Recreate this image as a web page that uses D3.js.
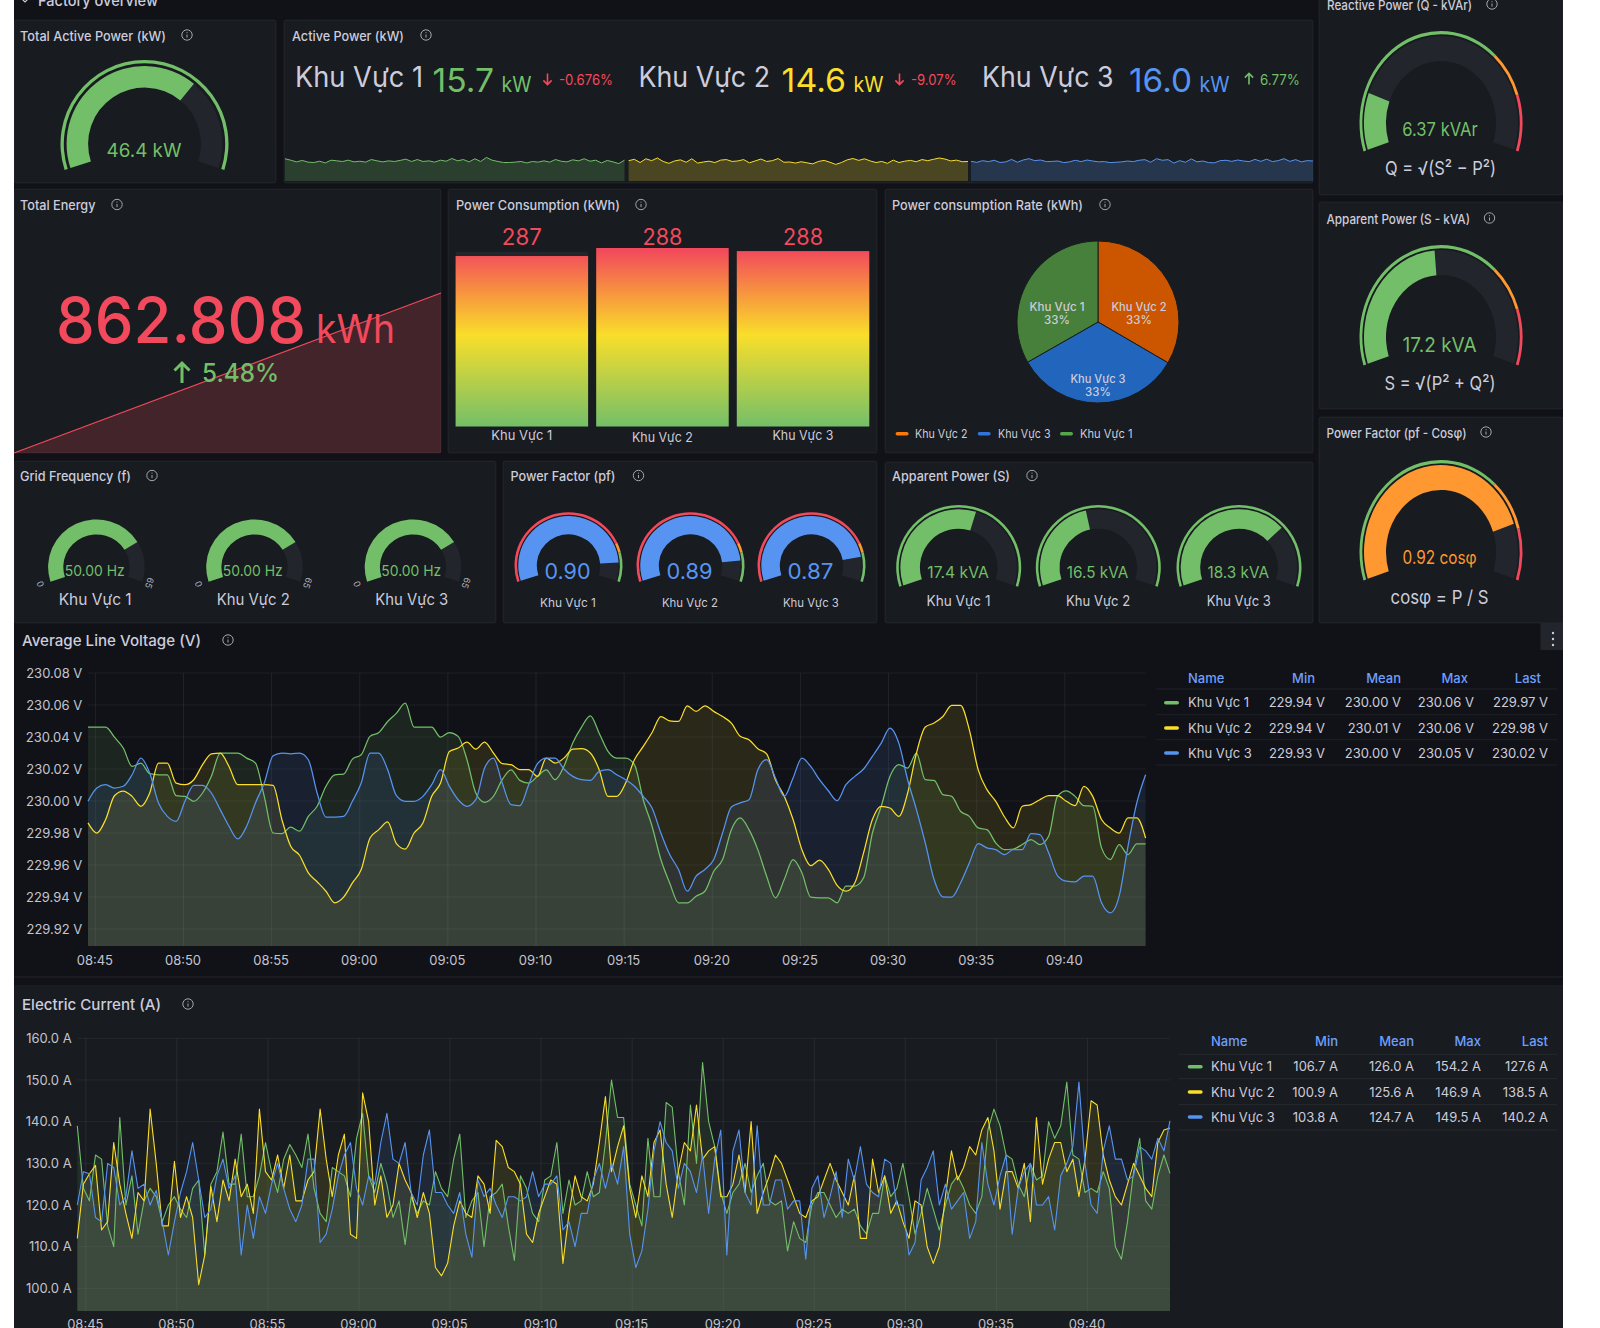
<!DOCTYPE html>
<html>
<head>
<meta charset="utf-8">
<title>Factory overview</title>
<script src="https://cdn.jsdelivr.net/npm/d3@7"></script>
<style>
  html, body { margin: 0; padding: 0; background: #fff; }
  svg { display: block; font-family: Inter, "Noto Sans", sans-serif; }
  .axis text { font-family: Inter, "Noto Sans", sans-serif; font-size: 13px; fill: #c4c4d0; }
  .axis .domain, .axis line { display: none; }
</style>
</head>
<body>
<svg id="board" width="1600" height="1328"></svg>
<script>
// ---- Series names and colours ----
const zones = ["Khu Vực 1", "Khu Vực 2", "Khu Vực 3"];
const zoneColors = ["#73bf69", "#fade2a", "#5794f2"];

// ---- Active power (kW) ----
const activePowerNow = [15.7, 14.6, 16.0];
const activePowerChange = ["-0.676%", "-9.07%", "6.77%"];
const sparkZone1 = [17.1,16.0,14.7,15.8,14.5,14.2,15.2,13.9,16.0,15.5,15.0,16.0,14.7,15.2,14.5,16.5,15.5,14.7,15.5,15.0,15.8,16.8,15.0,16.5,15.0,15.5,14.5,16.0,15.2,17.3,15.5,16.5,14.7,17.1,15.0,18.1,16.0,15.0,14.2,14.2,14.5,15.0,13.9,15.0,14.5,15.5,14.5,16.5,15.2,14.7,16.3,15.5,17.1,15.2,16.0,13.9,15.8,14.7,13.4,16.0];
const sparkZone2 = [15.2,16.2,13.8,16.6,15.2,17.2,14.6,13.2,15.0,15.8,14.0,16.6,13.4,14.2,14.8,13.8,15.6,16.0,14.6,15.0,16.0,13.6,15.0,16.4,14.6,15.2,16.8,14.0,14.2,13.4,14.4,13.6,12.8,14.6,15.4,14.0,12.4,13.8,15.8,16.8,15.4,16.6,15.0,13.8,14.6,13.2,15.6,13.8,14.8,15.4,14.4,16.0,15.2,16.2,17.2,16.4,15.0,15.6,14.4,14.6];
const sparkZone3 = [16.0,15.2,16.6,15.8,16.9,15.1,15.6,17.6,15.3,17.1,18.2,16.6,17.1,15.8,16.0,16.3,15.0,15.6,16.9,15.8,17.1,16.3,15.6,15.8,15.0,15.3,15.6,16.3,15.8,16.9,17.4,15.3,18.2,16.9,17.4,14.6,16.6,15.3,18.0,15.6,16.3,15.0,14.8,16.6,16.9,16.0,17.1,16.3,15.8,17.6,16.0,17.8,15.8,16.6,18.2,16.0,17.4,15.6,16.6,16.3];

// ---- Energy (kWh) ----
const totalEnergy = 862.808;
const totalEnergyTrend = [0, 862.808];
const consumption = [286.9, 288.2, 287.7];

// ---- Gauge readings ----
const totalActive = 46.4;
const reactive = 6.37;
const apparentTotal = 17.2;
const cosPhi = 0.92;
const gridFrequency = [50, 50, 50];
const zonePowerFactor = [0.90, 0.89, 0.87];
const zoneApparent = [17.4, 16.5, 18.3];

// ---- Line voltage, 30 s samples, millivolts away from the 230 V nominal ----
const voltageMvZone1 = [46.2,46.2,46.2,39.9,33.1,21.6,23.7,17.1,16.4,16.4,3.3,2.9,-0.2,5.0,15.4,30.0,30.0,30.0,26.8,23.7,2.9,-20.0,-20.4,-16.4,-18.9,-9.6,-3.3,9.2,16.4,16.8,26.2,28.9,40.4,42.8,49.7,54.9,61.2,46.2,46.2,46.2,39.9,42.8,40.4,25.8,5.0,-0.8,2.9,13.3,19.5,12.9,11.2,15.4,19.5,13.3,21.6,36.2,46.2,53.2,42.4,
  31.0,26.8,26.8,22.7,0.8,-15.8,-36.6,-51.2,-63.6,-63.6,-59.5,-56.4,-43.9,-36.6,-17.9,-10.6,-17.9,-30.4,-47.0,-60.5,-49.1,-36.6,-44.9,-60.1,-60.5,-60.5,-63.6,-53.2,-53.2,-48.0,-20.0,-3.3,15.4,22.7,20.6,30.0,13.3,12.9,4.0,2.9,-6.4,-9.6,-16.8,-17.9,-26.2,-30.4,-30.0,-27.2,-24.1,-27.2,-22.0,2.9,6.4,2.9,-2.9,-3.3,-29.3,-36.6,-27.2,-33.5,-26.8,-26.8];
const voltageMvZone2 = [-13.7,-20.0,-11.6,3.3,6.2,2.9,-3.3,5.0,23.7,23.7,11.2,10.2,13.3,22.7,29.5,30.0,21.6,10.2,10.2,10.2,10.2,9.8,-11.6,-28.3,-33.9,-44.9,-50.5,-56.4,-63.6,-60.1,-51.2,-42.8,-23.1,-17.9,-13.1,-26.6,-30.0,-20.0,-13.7,2.9,11.2,31.0,33.1,36.8,32.4,36.8,30.0,23.3,22.7,19.6,19.6,15.4,26.8,23.7,26.8,32.4,32.7,30.0,19.6,
  2.9,2.9,11.2,25.8,34.1,42.8,52.8,50.1,49.7,59.5,56.0,59.5,56.0,52.8,48.7,40.4,38.3,32.7,29.5,13.3,2.9,-11.6,-30.4,-40.4,-37.0,-42.8,-52.8,-56.4,-51.2,-32.4,-11.6,-3.3,-4.4,-9.6,5.0,30.0,46.2,48.7,52.8,59.7,59.7,44.5,19.6,7.1,-0.2,-10.0,-16.8,-3.3,-2.3,0.8,3.3,3.3,-0.2,-2.9,9.2,2.9,-11.6,-16.8,-20.0,-10.6,-10.6,-23.1];
const voltageMvZone3 = [-0.2,8.1,10.2,8.1,9.2,16.4,26.8,17.5,-1.2,-9.6,-12.7,-0.2,9.8,9.8,5.0,-5.4,-15.8,-23.7,-15.8,-1.2,11.2,28.3,30.0,29.5,30.0,25.8,5.0,-10.0,-10.0,-9.6,-0.2,11.2,30.0,30.0,19.6,3.3,-0.2,-0.2,2.9,10.2,19.6,9.2,0.8,-3.3,0.8,20.6,26.8,11.2,-2.3,-2.9,10.2,23.3,26.8,26.8,20.0,15.4,13.3,12.9,18.5,
  19.6,16.4,13.3,9.2,2.9,-4.4,-20.0,-33.5,-42.8,-56.4,-47.0,-42.8,-36.6,-20.0,-3.7,-1.2,0.8,19.6,25.8,14.4,2.9,14.4,26.8,21.6,13.3,6.4,0.2,10.2,15.4,20.0,27.9,36.2,45.6,36.2,13.3,-5.4,-26.2,-49.1,-59.9,-60.1,-51.2,-38.7,-26.6,-29.3,-30.4,-33.5,-30.4,-30.4,-20.4,-21.0,-32.4,-46.6,-50.1,-50.5,-47.0,-47.0,-63.6,-69.9,-59.5,-28.3,-1.2,16.4];
const voltageTicks = [229.92, 229.94, 229.96, 229.98, 230.00, 230.02, 230.04, 230.06, 230.08];
const voltageMin = [229.94, 229.94, 229.93];
const voltageMean = [230.00, 230.01, 230.00];
const voltageMax = [230.06, 230.06, 230.05];
const voltageLast = [229.97, 229.98, 230.02];

// ---- Electric current, 20 s samples, amperes ----
const currentZone1 = [139,124,121,132,131,115,110,141,120,127,113,121,124,122,116,120,122,119,117,124,126,108,125,128,137.5,125,125,137,122,122,127,135,128,123,131,134.5,132,129,137,124,118,116,129,128,127,122,136,142,127,123,130,125,117,121,110.5,122,118,121,120,128,124,122,131,137,117,121,123,110,122,123,125,115,106.7,127,124,118,116,126,127,135,118,126,120,121,128,
  122,123,135,150,141,141,125,120,115,136,122,122,144.6,143.5,128,120,144,130,154.2,140,134,123,118,123,125,130,123,127,130,121,120,121,109,116,112,111,120,123,123,120,117,119,118,119,115,113,118,118,127,122,124,130,122,113,118,124,119,114,120,125,127,124,120,118,122,138,143,139,132,131,125,122,130,126,127,140,136,139,149.5,132,131,123,124,123,128,124,110,107,116,128,136,121,119,127,132,127.6];
const currentZone2 = [112,125,127.5,129.5,114,116,135,125,118,112,123,121,143,130,115,115,130.5,117,122,117,100.9,108,124.5,116,126,121,131,122,125,118,143,128,126,132,124,132,121,121,126,128,143,131,122,132,137,113,112,146.9,140,120,127,117,120,130,126,123,117,123,118,105,103,106,115,121,118,117,127,125,118,135.5,134,129,128,125,113,111,118,122,126,125,106,118,127,122,121,
  125,135,146,128,134,139,124,117,127,122,135,138,125,117,128,135,133,144,131,133,134,122,122,125,132,123,140,118,123,127,132,130,126,122,118,117,121,122,126,130,126,123,120,127,112,112,131,123,127,118,121,116,112,121,120,110,106,110,122,133,126,129,134,132,138,141,133,119,128,128,124,130,116,141,125,131,135,135,128,131,122,131,145,144,132,126,122,120,125,130,127,124,122,135,138,138.5];
const currentZone3 = [120,128,127.5,117,116,130,129,120,122,133,124,125,120,123.5,116,108,116,123,128,135,126,117,119,127,131,124,127,108,120,112,122,118,125,130,124,119,116,120,131,131,111,113,119,127,132,135,124,120,127,125,135,142,131,130,135,123,120,132,138,123,123,120,118,123,113,107.5,126,122,124,120,117,122,122,121,122,128,122,125,125,127,114,116,110,118,118,
  126,130,124,130,125,134,113,105,109,119,133,140,135,133,124,130,128,123,132,118,131,138,108,133,138,123,120,139,120,120,126,126,119,121,121,107,124,127,117,122,128,117,131,126,134,125,123,122,131,130,120,120,108,111,126,129,133,120,125,119,121,123,112,116,135,125,120,127,132,113,124,128,130,120,120,122,114,127,130,134,149.5,130,120,118,133,139,131,131,126,127,134,133,131,136,133,140.2];
const currentTicks = [100, 110, 120, 130, 140, 150, 160];
const currentMin = [106.7, 100.9, 103.8];
const currentMean = [126.0, 125.6, 124.7];
const currentMax = [154.2, 146.9, 149.5];
const currentLast = [127.6, 138.5, 140.2];

// ---- Pie legend order and colours ----
const pieOrder = [1, 2, 0];
const pieColors = ["#ff780a", "#3274d9", "#56a64b"];

const RED = "#f2495c", ORANGE = "#ff9830", GREEN = "#73bf69", BLUE = "#5794f2", TEXT = "#ccccdc", TRACK = "#22252b";

const svg = d3.select("#board");
const defs = svg.append("defs");
const deg = d => d * Math.PI / 180;

// Text helper: y is the visual middle of the capitals, w forces the rendered width.
function label(x, y, str, o = {}) {
  const size = o.size || 13;
  const n = (o.parent || svg).append("text")
    .attr("x", x).attr("y", y + 0.36 * size)
    .attr("font-size", size)
    .attr("fill", o.fill || TEXT)
    .attr("font-weight", o.weight || 400)
    .attr("text-anchor", o.anchor || "start")
    .text(str);
  if (o.w) n.attr("textLength", o.w).attr("lengthAdjust", "spacingAndGlyphs");
  return n;
}

function infoIcon(cx, cy) {
  const g = svg.append("g").attr("fill", "none").attr("stroke", "#a4a7b3").attr("stroke-width", 1);
  g.append("circle").attr("cx", cx).attr("cy", cy).attr("r", 5.2);
  g.append("line").attr("x1", cx).attr("x2", cx).attr("y1", cy - 0.5).attr("y2", cy + 2.6);
  g.append("line").attr("x1", cx).attr("x2", cx).attr("y1", cy - 2.8).attr("y2", cy - 1.8);
}

function panel(x, y, w, h, title, tx, ty, tw, icon) {
  svg.append("rect").attr("x", x).attr("y", y).attr("width", w).attr("height", h).attr("rx", 2)
    .attr("fill", "#181b1f").attr("stroke", "rgba(204,204,220,0.07)");
  label(tx, ty, title, { size: 13, weight: 500, w: tw });
  infoIcon(icon, ty - 1);
}

function arrow(cx, cy, up, color, size, width) {
  const d = up ? -1 : 1, s = size;
  svg.append("path")
    .attr("d", `M${cx},${cy - d * s}L${cx},${cy + d * s}M${cx - s * 0.75},${cy + d * s * 0.25}L${cx},${cy + d * s}L${cx + s * 0.75},${cy + d * s * 0.25}`)
    .attr("fill", "none").attr("stroke", color).attr("stroke-width", width);
}

// Radial gauge spanning -108..108 degrees, with optional threshold ring.
function gauge(o) {
  const a = d3.scaleLinear().domain(o.domain).range([deg(-108), deg(108)]).clamp(true);
  const g = svg.append("g").attr("transform", `translate(${o.cx},${o.cy}) scale(1,${o.ry / o.rx})`);
  const bandOuter = o.rx - (o.ringW || 0) - (o.gap || 0);
  const band = d3.arc().innerRadius(bandOuter - o.bandW).outerRadius(bandOuter);
  g.append("path").attr("d", band({ startAngle: deg(-108), endAngle: deg(108) })).attr("fill", TRACK);
  g.append("path").attr("d", band({ startAngle: deg(-108), endAngle: a(o.value) })).attr("fill", o.color);
  if (o.ringW) {
    const ring = d3.arc().innerRadius(o.rx - o.ringW).outerRadius(o.rx);
    const stops = [o.domain[0], ...o.steps.map(s => s[0]), o.domain[1]];
    o.steps.concat([[0, o.lastColor]]).forEach((s, i) => {
      g.append("path").attr("d", ring({ startAngle: a(stops[i]), endAngle: a(stops[i + 1]) })).attr("fill", i < o.steps.length ? s[1] : o.lastColor);
    });
  }
}

// ---- Page frame ----
svg.append("rect").attr("x", 14).attr("y", 0).attr("width", 1549).attr("height", 1328).attr("fill", "#111217");
svg.append("path").attr("d", "M21,-2L25,2L29,-2").attr("fill", "none").attr("stroke", TEXT).attr("stroke-width", 1.2);
label(38, 1, "Factory overview", { size: 15, weight: 500, w: 120 });

// ---- Total active power ----
panel(14, 20, 262, 163, "Total Active Power (kW)", 20, 36, 146, 187);
gauge({ cx: 144.5, cy: 144, rx: 84, ry: 84, ringW: 3.3, gap: 2.8, bandW: 21.5, value: totalActive, domain: [0, 68], color: GREEN, steps: [], lastColor: GREEN });
label(144, 150, `${totalActive} kW`, { size: 19, fill: GREEN, anchor: "middle", w: 75 });

// ---- Active power per zone ----
panel(284, 20, 1029, 163, "Active Power (kW)", 292, 36, 112, 426);
const statX = [
  { name: 295, nameW: 128, val: 432.6, valW: 61.5, unit: 501.5, arrow: 547.5, pct: 559, pctW: 54, up: false },
  { name: 638.5, nameW: 131.5, val: 781.6, valW: 64.5, unit: 853.6, arrow: 899.5, pct: 911, pctW: 45.6, up: false },
  { name: 982, nameW: 131.5, val: 1129, valW: 63, unit: 1199.5, arrow: 1249, pct: 1260, pctW: 40, up: true }
];
statX.forEach((s, i) => {
  label(s.name, 77, zones[i], { size: 28, w: s.nameW });
  label(s.val, 80, activePowerNow[i].toFixed(1), { size: 33, fill: zoneColors[i], w: s.valW });
  label(s.unit, 84, "kW", { size: 22, fill: zoneColors[i], w: 30 });
  arrow(s.arrow, 79, s.up, s.up ? GREEN : RED, 5.5, 1.6);
  label(s.pct, 79.5, activePowerChange[i], { size: 14, fill: s.up ? GREEN : RED, w: s.pctW });
});
[[285, 624.5, sparkZone1], [628.6, 968, sparkZone2], [971, 1313, sparkZone3]].forEach(([x0, x1, vals], i) => {
  const x = d3.scaleLinear().domain([0, vals.length - 1]).range([x0, x1]);
  const y = d3.scaleLinear().domain([0, d3.mean(vals) * 1.25]).range([181, 156]);
  svg.append("path").datum(vals).attr("fill", zoneColors[i]).attr("fill-opacity", 0.22)
    .attr("d", d3.area().x((d, j) => x(j)).y0(181).y1(d => y(d)));
  svg.append("path").datum(vals).attr("fill", "none").attr("stroke", zoneColors[i]).attr("stroke-width", 1)
    .attr("d", d3.line().x((d, j) => x(j)).y(d => y(d)));
});

// ---- Right column gauges ----
const powerSteps = [[25, GREEN], [30, ORANGE]];
panel(1319, -20, 244, 215, "Reactive Power (Q - kVAr)", 1327, 5, 145, 1492);
gauge({ cx: 1441, cy: 123, rx: 81.5, ry: 92, ringW: 2.8, gap: 1.7, bandW: 22, value: reactive, domain: [0, 36], color: GREEN, steps: powerSteps, lastColor: RED });
label(1440, 129, `${reactive} kVAr`, { size: 19, fill: GREEN, anchor: "middle", w: 75.5 });
label(1440.5, 168, "Q = √(S² − P²)", { size: 19, anchor: "middle", w: 111 });

panel(1319, 202, 244, 207, "Apparent Power (S - kVA)", 1326.5, 219, 143.5, 1489.5);
gauge({ cx: 1441, cy: 337, rx: 81.5, ry: 92, ringW: 2.8, gap: 1.7, bandW: 22, value: apparentTotal, domain: [0, 36], color: GREEN, steps: powerSteps, lastColor: RED });
label(1439.6, 345, `${apparentTotal} kVA`, { size: 20, fill: GREEN, anchor: "middle", w: 74 });
label(1440, 383, "S = √(P² + Q²)", { size: 19, anchor: "middle", w: 111 });

panel(1319, 417, 244, 206, "Power Factor (pf - Cosφ)", 1326.5, 433, 140, 1486);
gauge({ cx: 1441, cy: 552, rx: 81.5, ry: 92, ringW: 2.8, gap: 1.7, bandW: 22, value: cosPhi, domain: [0, 1.11], color: ORANGE, steps: [[0.77, GREEN], [0.94, ORANGE]], lastColor: RED });
label(1439.6, 558, `${cosPhi} cosφ`, { size: 18, fill: ORANGE, anchor: "middle", w: 74 });
label(1439.6, 597, "cosφ = P / S", { size: 19, anchor: "middle", w: 98 });

// ---- Total energy ----
panel(14, 189, 427, 264, "Total Energy", 20, 205.5, 75.5, 117);
{
  const x = d3.scaleLinear().domain([0, totalEnergyTrend.length - 1]).range([14, 441]);
  const y = d3.scaleLinear().domain([0, totalEnergy]).range([453, 293]);
  svg.append("path").datum(totalEnergyTrend).attr("fill", RED).attr("fill-opacity", 0.2)
    .attr("d", d3.area().x((d, i) => x(i)).y0(453).y1(d => y(d)));
  svg.append("path").datum(totalEnergyTrend).attr("fill", "none").attr("stroke", RED).attr("stroke-width", 1.2)
    .attr("d", d3.line().x((d, i) => x(i)).y(d => y(d)));
}
label(56, 320.5, totalEnergy.toFixed(3), { size: 63, fill: RED, w: 250, weight: 500 });
label(316, 329, "kWh", { size: 40, fill: RED, w: 79 });
arrow(182, 373, true, GREEN, 10, 3);
label(202, 373, "5.48%", { size: 25, fill: GREEN, w: 77, weight: 500 });

// ---- Power consumption bars ----
panel(448, 189, 429, 264, "Power Consumption (kWh)", 456, 205.5, 164, 641);
{
  const grad = defs.append("linearGradient").attr("id", "barFill").attr("gradientUnits", "userSpaceOnUse")
    .attr("x1", 0).attr("x2", 0).attr("y1", 250).attr("y2", 427);
  [[0, RED], [0.24, "#f7943f"], [0.48, "#f9de2a"], [1, GREEN]].forEach(s => grad.append("stop").attr("offset", s[0]).attr("stop-color", s[1]));
  const x = d3.scaleBand().domain(zones).range([455.6, 869.3]).paddingInner(0.0575);
  const y = d3.scaleLinear().domain([259.3, 288.2]).range([426.5, 248]);
  svg.append("g").selectAll("rect").data(zones).join("rect")
    .attr("x", d => x(d)).attr("width", x.bandwidth()).attr("y", 251.7).attr("height", 426.5 - 251.7).attr("fill", TRACK);
  svg.append("g").selectAll("rect").data(consumption).join("rect")
    .attr("x", (d, i) => x(zones[i])).attr("width", x.bandwidth())
    .attr("y", d => y(d)).attr("height", d => 426.5 - y(d)).attr("fill", "url(#barFill)");
  consumption.forEach((v, i) => {
    const cx = x(zones[i]) + x.bandwidth() / 2;
    label(cx, 236.7, d3.format(".0f")(v), { size: 23, fill: RED, anchor: "middle", w: 40 });
    label(cx, i === 1 ? 437.5 : 435.5, zones[i], { size: 13.5, anchor: "middle", w: 61 });
  });
}

// ---- Consumption share pie ----
panel(885, 189, 428, 264, "Power consumption Rate (kWh)", 892, 205.5, 191, 1105);
{
  const cx = 1098, cy = 322, r = 81;
  const stops = [["#b55a12", "#cc5500"], ["#1e4b9c", "#2166bc"], ["#38662f", "#47803a"]];
  const pieData = pieOrder.map(i => consumption[i]);
  const arcs = d3.pie().sort(null)(pieData);
  const arcGen = d3.arc().innerRadius(0).outerRadius(r);
  const g = svg.append("g").attr("transform", `translate(${cx},${cy})`);
  arcs.forEach((a, i) => {
    const id = "slice" + i;
    const rg = defs.append("radialGradient").attr("id", id).attr("gradientUnits", "userSpaceOnUse")
      .attr("cx", cx).attr("cy", cy).attr("r", r);
    rg.append("stop").attr("offset", 0).attr("stop-color", stops[i][0]);
    rg.append("stop").attr("offset", 1).attr("stop-color", stops[i][1]);
    g.append("path").attr("d", arcGen(a)).attr("fill", `url(#${id})`).attr("stroke", "#181b1f").attr("stroke-width", 1);
  });
  const pos = [[1139, 307, 320], [1098, 379, 392], [1057, 307, 320]];
  arcs.forEach((a, i) => {
    const pct = d3.format(".0%")((a.endAngle - a.startAngle) / (2 * Math.PI));
    label(pos[i][0], pos[i][1], zones[pieOrder[i]], { size: 11.5, anchor: "middle", w: 55, weight: 500 });
    label(pos[i][0], pos[i][2], pct, { size: 11.5, anchor: "middle", weight: 500 });
  });
  [[895.6, 915], [977.7, 998], [1060, 1080]].forEach(([sx, tx], i) => {
    svg.append("rect").attr("x", sx).attr("y", 432).attr("width", 13).attr("height", 3.5).attr("rx", 1.7).attr("fill", pieColors[i]);
    label(tx, 433.7, zones[pieOrder[i]], { size: 11.5, w: 52.5 });
  });
}

// ---- Grid frequency ----
panel(14, 461, 482, 162, "Grid Frequency (f)", 20, 476.5, 111, 152);
[96.4, 254.5, 413].forEach((cx, i) => {
  gauge({ cx, cy: 567, rx: 48.3, ry: 47.6, bandW: 15.2, value: gridFrequency[i], domain: [0, 65], color: GREEN });
  label(cx - 1.7, 571, gridFrequency[i].toFixed(2) + " Hz", { size: 15, fill: GREEN, anchor: "middle", w: 60 });
  label(cx - 1.2, 599.5, zones[i], { size: 16, anchor: "middle", w: 73 });
  svg.append("text").attr("transform", `translate(${cx - 56},584) rotate(-108)`).attr("font-size", 9).attr("fill", "#b0b2bd").attr("text-anchor", "middle").attr("dy", "0.35em").text("0");
  svg.append("text").attr("transform", `translate(${cx + 53},583) rotate(108)`).attr("font-size", 9).attr("fill", "#b0b2bd").attr("text-anchor", "middle").attr("dy", "0.35em").text("65");
});

// ---- Zone power factor ----
panel(503, 461, 374, 162, "Power Factor (pf)", 510.5, 476.5, 105, 638.5);
[568.5, 690.5, 811.5].forEach((cx, i) => {
  gauge({ cx, cy: 565.5, rx: 54, ry: 53.2, ringW: 2.6, gap: 1.2, bandW: 18.5, value: zonePowerFactor[i], domain: [0, 1], color: BLUE, steps: [[0.8, RED], [0.85, ORANGE]], lastColor: GREEN });
  label(cx - 1, 571.7, zonePowerFactor[i].toFixed(2), { size: 21, fill: BLUE, anchor: "middle", w: 46 });
  label(cx - 0.6, 602.7, zones[i], { size: 12, anchor: "middle", w: 56 });
});

// ---- Zone apparent power ----
panel(885, 462, 428, 161, "Apparent Power (S)", 892, 476.5, 118, 1032);
[958.7, 1098.3, 1239].forEach((cx, i) => {
  gauge({ cx, cy: 567.4, rx: 62.5, ry: 62.4, ringW: 2.6, gap: 1.6, bandW: 19.5, value: zoneApparent[i], domain: [13.6, 20.15], color: GREEN, steps: [], lastColor: GREEN });
  label(cx - 0.7, 572.3, zoneApparent[i] + " kVA", { size: 15.5, fill: GREEN, anchor: "middle", w: 61.5 });
  label(cx - 0.2, 601, zones[i], { size: 14.5, anchor: "middle", w: 64 });
});

// ---- Time series helper ----
function timeSeries(o) {
  const g = svg.append("g");
  const t = (i) => new Date(o.start.getTime() + i * o.stepSeconds * 1000);
  const x = d3.scaleTime().domain([o.start, t(o.series[0].length - 1)]).range([o.left, o.right]);
  const y = d3.scaleLinear().domain(o.yDomain).range([o.bottom, o.top]);

  g.append("g").selectAll("line").data(o.yTicks).join("line")
    .attr("x1", o.left).attr("x2", o.right).attr("y1", d => y(d)).attr("y2", d => y(d))
    .attr("stroke", "rgba(204,204,220,0.07)");

  const xTicks = d3.range(0, 12).map(i => new Date(2024, 0, 1, 8, 45 + i * 5));
  g.append("g").selectAll("line").data(xTicks).join("line")
    .attr("x1", d => x(d)).attr("x2", d => x(d)).attr("y1", o.top).attr("y2", o.bottom)
    .attr("stroke", "rgba(204,204,220,0.09)");

  g.append("g").attr("class", "axis").attr("transform", `translate(${o.left},0)`)
    .call(d3.axisLeft(y).tickValues(o.yTicks).tickSize(0).tickPadding(o.yPad).tickFormat(o.yFormat));
  g.append("g").attr("class", "axis").attr("transform", `translate(0,${o.bottom})`)
    .call(d3.axisBottom(x).tickValues(xTicks).tickSize(0).tickPadding(o.xPad).tickFormat(d3.timeFormat("%H:%M")))
    .selectAll("text").attr("dx", -1);

  const area = d3.area().x((d, i) => x(t(i))).y0(o.bottom).y1(d => y(d)).curve(o.curve);
  const line = d3.line().x((d, i) => x(t(i))).y(d => y(d)).curve(o.curve);
  o.series.forEach((vals, i) => {
    g.append("path").datum(vals).attr("fill", zoneColors[i]).attr("fill-opacity", 0.11).attr("d", area);
  });
  o.series.forEach((vals, i) => {
    g.append("path").datum(vals).attr("fill", "none").attr("stroke", zoneColors[i])
      .attr("stroke-width", o.strokeWidth).attr("stroke-linejoin", "round").attr("d", line);
  });
}

function statsTable(o) {
  const heads = ["Min", "Mean", "Max", "Last"];
  label(o.nameX, o.headY, "Name", { size: 13, fill: "#6e9fff", weight: 500 });
  heads.forEach((h, i) => label(o.headRight[i], o.headY, h, { size: 13, fill: "#6e9fff", weight: 500, anchor: "end" }));
  o.lines.forEach(ly => svg.append("line").attr("x1", o.x0).attr("x2", o.x1).attr("y1", ly).attr("y2", ly).attr("stroke", "rgba(204,204,220,0.08)"));
  zones.forEach((z, r) => {
    const y = o.rowY[r];
    svg.append("rect").attr("x", o.swatch).attr("y", y - 1.8).attr("width", 15).attr("height", 3.6).attr("rx", 1.8).attr("fill", zoneColors[r]);
    label(o.nameX, y, z, { size: 13 });
    o.columns.forEach((col, c) => label(o.valueRight[c], y, o.format(col[r]), { size: 13, anchor: "end" }));
  });
}

// ---- Average line voltage ----
svg.append("line").attr("x1", 14).attr("x2", 1563).attr("y1", 977).attr("y2", 977).attr("stroke", "#22252b");
label(22, 640.7, "Average Line Voltage (V)", { size: 15, weight: 500, w: 179 });
infoIcon(228, 640);
svg.append("rect").attr("x", 1540.5).attr("y", 623).attr("width", 22.5).attr("height", 27).attr("fill", TRACK);
[633, 639, 645].forEach(cy => svg.append("circle").attr("cx", 1553).attr("cy", cy).attr("r", 1.2).attr("fill", TEXT));
timeSeries({
  series: [voltageMvZone1, voltageMvZone2, voltageMvZone3].map(s => s.map(d => 230 + d / 1000)),
  start: new Date(2024, 0, 1, 8, 44, 35), stepSeconds: 30,
  left: 88, right: 1145.6, top: 673, bottom: 946,
  yDomain: [229.909375, 230.08], yTicks: voltageTicks, yFormat: d => d3.format(".2f")(d) + " V",
  yPad: 5.7, xPad: 9.5, strokeWidth: 1.25, curve: d3.curveMonotoneX
});
statsTable({
  nameX: 1188, headY: 678, headRight: [1315, 1401, 1468, 1541], valueRight: [1325, 1401, 1474, 1548],
  rowY: [702.7, 728, 753], lines: [689, 714.7, 739.7, 765], x0: 1156, x1: 1557, swatch: 1164,
  columns: [voltageMin, voltageMean, voltageMax, voltageLast], format: d => d3.format(".2f")(d) + " V"
});

// ---- Electric current ----
svg.append("rect").attr("x", 14).attr("y", 985).attr("width", 1549).attr("height", 343).attr("fill", "#181b1f");
label(22, 1004.7, "Electric Current (A)", { size: 15, weight: 500, w: 139 });
infoIcon(188, 1004);
timeSeries({
  series: [currentZone1, currentZone2, currentZone3],
  start: new Date(2024, 0, 1, 8, 44, 32), stepSeconds: 20,
  left: 77.3, right: 1170, top: 1038.3, bottom: 1311,
  yDomain: [94.57, 160], yTicks: currentTicks, yFormat: d => d3.format(".1f")(d) + " A",
  yPad: 5.7, xPad: 8.5, strokeWidth: 1.1, curve: d3.curveLinear
});
statsTable({
  nameX: 1211, headY: 1041.7, headRight: [1338, 1414, 1481, 1548], valueRight: [1338, 1414, 1481, 1548],
  rowY: [1066.7, 1092, 1117], lines: [1054.3, 1078.7, 1104.7, 1130], x0: 1178.7, x1: 1557, swatch: 1187.7,
  columns: [currentMin, currentMean, currentMax, currentLast], format: d => d3.format(".1f")(d) + " A"
});
</script>
</body>
</html>
